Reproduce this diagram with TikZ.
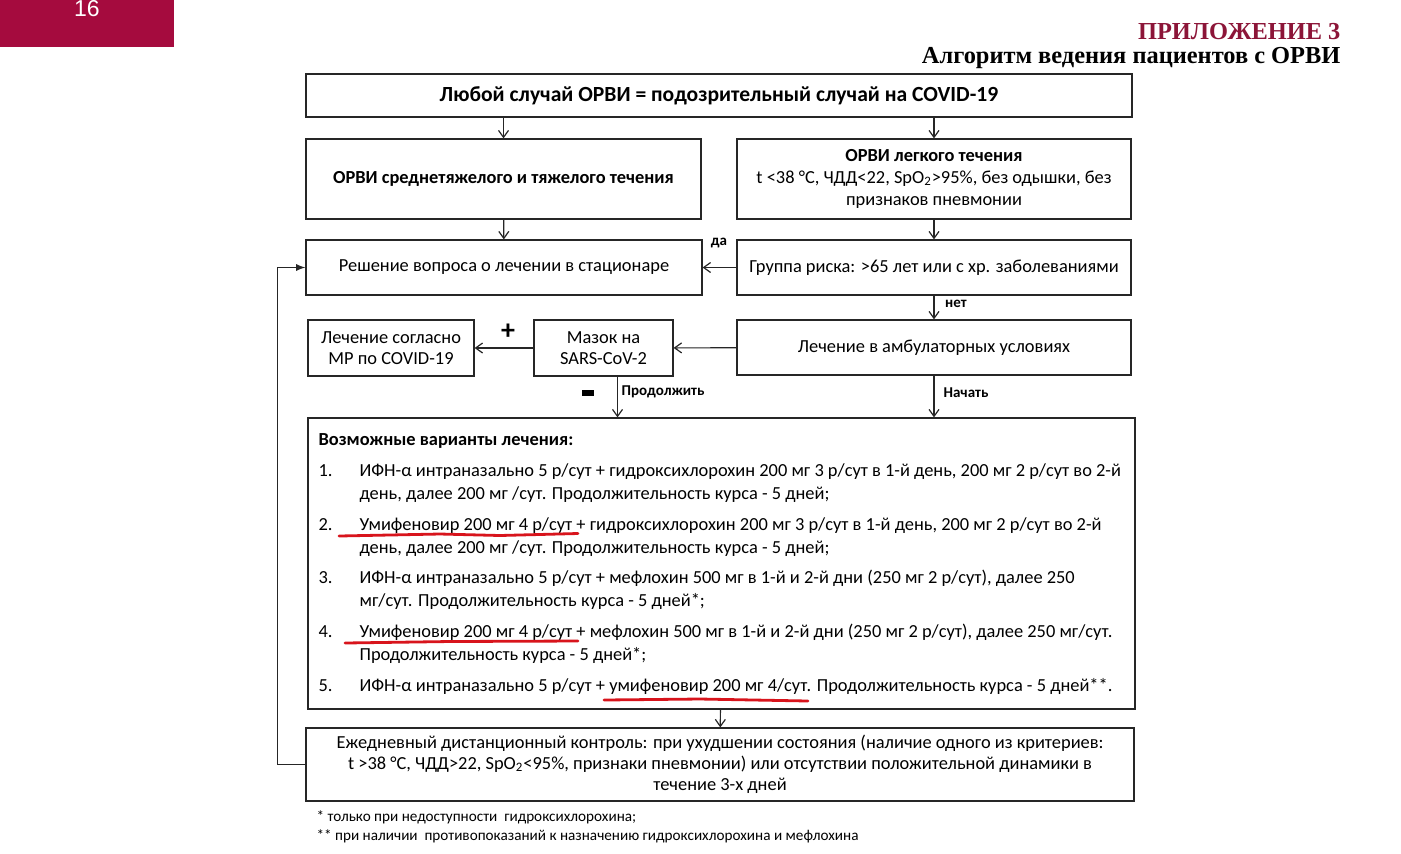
\documentclass[tikz,border=0pt]{standalone}
\usepackage{fontspec}
\setmainfont{Carlito}
\newfontfamily\headfont{Liberation Serif}
\newfontfamily\badgefont{Liberation Sans}
\usetikzlibrary{arrows,arrows.meta,positioning}
\definecolor{badgered}{HTML}{A50B3E}
\definecolor{headred}{HTML}{8C1538}
\definecolor{penred}{HTML}{D8141C}
\newcommand\bodysize{\fontsize{9.2}{10.5}\selectfont}
\newcommand\tagsize{\fontsize{7.5}{8}\selectfont}
\newcommand\notesize{\fontsize{7.6}{8}\selectfont}

\begin{document}
\begin{tikzpicture}[x=0.5pt,y=-0.5pt,>={Straight Barb[length=3.5pt,width=5pt]},line width=0.6pt,
  every node/.style={font=\bodysize},
  box/.style={draw=black!85,rectangle,align=center,inner sep=2pt},
  flow/.style={->,draw=black!85},
  tag/.style={font=\tagsize\bfseries,inner sep=1pt},
  line/.style={anchor=base west,inner sep=0pt},
  redline/.style={draw=penred,line width=1.4pt,line cap=round}]
  \useasboundingbox[fill=white] (0,0) rectangle (1401,853);

  % page badge and heading
  \node[fill=badgered,minimum width=87pt,minimum height=23.5pt,inner sep=0pt] (badge) at (87,23.5) {};
  \node[text=white,font=\badgefont\fontsize{11.5}{11.5}\selectfont,inner sep=0pt] (pg) at (87,9) {16};
  \node[anchor=east,text=headred,font=\headfont\bfseries\fontsize{12.2}{13}\selectfont,inner sep=0pt] (app) at (1341,32) {ПРИЛОЖЕНИЕ 3};
  \node[anchor=east,font=\headfont\bfseries\fontsize{12.2}{13}\selectfont,inner sep=0pt] (ttl) at (1341,58) {Алгоритм ведения пациентов с ОРВИ};

  % boxes
  \node[box,minimum width=413pt,minimum height=21.5pt,font=\fontsize{10.8}{12}\selectfont\bfseries] (any) at (719,95.5)
    {Любой случай ОРВИ = подозрительный случай на COVID-19};
  \node[box,minimum width=197.5pt,minimum height=40pt,font=\bodysize\bfseries] (heavy) at (503.5,179)
    {ОРВИ среднетяжелого и тяжелого течения};
  \node[box,minimum width=197pt,minimum height=40pt,font=\fontsize{9.2}{11}\selectfont] (mild) at (934,179)
    {\textbf{ОРВИ легкого течения}\\t <38 °C, ЧДД<22, SpO\textsubscript{2}>95\%, без одышки, без\\признаков пневмонии};
  \node[box,minimum width=198pt,minimum height=27.5pt] (hosp) at (504,267.5)
    {Решение вопроса о лечении в стационаре};
  \node[box,minimum width=197pt,minimum height=27.5pt] (risk) at (934,267.5)
    {Группа риска: >65 лет или с хр. заболеваниями};
  \node[box,minimum width=197pt,minimum height=27.5pt] (ambu) at (934,347.5)
    {Лечение в амбулаторных условиях};
  \node[box,minimum width=69.5pt,minimum height=28pt] (swab) at (603.5,348)
    {Мазок на\\SARS-CoV-2};
  \node[box,minimum width=83pt,minimum height=28pt] (covid) at (391,348)
    {Лечение согласно\\МР по COVID-19};
  \node[box,minimum width=413.5pt,minimum height=145.5pt] (opts) at (721.5,563.5) {};
  \node[box,minimum width=414pt,minimum height=36.5pt] (ctrl) at (720,764.5)
    {Ежедневный дистанционный контроль: при ухудшении состояния (наличие одного из критериев:\\
     t >38 °C, ЧДД>22, SpO\textsubscript{2}<95\%, признаки пневмонии) или отсутствии положительной динамики в\\
     течение 3-х дней};

  % treatment options
  \node[line,font=\bodysize\bfseries] (oh) at (318,445.5) {Возможные варианты лечения:};
  \node[line] (n1) at (318,476.5) {1.};
  \node[line] (t1a) at (359,476.5) {ИФН-α интраназально 5 р/сут + гидроксихлорохин 200 мг 3 р/сут в 1-й день, 200 мг 2 р/сут во 2-й};
  \node[line] (t1b) at (359,499.5) {день, далее 200 мг /сут. Продолжительность курса - 5 дней;};
  \node[line] (n2) at (318,530.5) {2.};
  \node[line] (t2a) at (359,530.5) {Умифеновир 200 мг 4 р/сут + гидроксихлорохин 200 мг 3 р/сут в 1-й день, 200 мг 2 р/сут во 2-й};
  \node[line] (t2b) at (359,553.5) {день, далее 200 мг /сут. Продолжительность курса - 5 дней;};
  \node[line] (n3) at (318,583.5) {3.};
  \node[line] (t3a) at (359,583.5) {ИФН-α интраназально 5 р/сут + мефлохин 500 мг в 1-й и 2-й дни (250 мг 2 р/сут), далее 250};
  \node[line] (t3b) at (359,606.5) {мг/сут. Продолжительность курса - 5 дней*;};
  \node[line] (n4) at (318,637.5) {4.};
  \node[line] (t4a) at (359,637.5) {Умифеновир 200 мг 4 р/сут + мефлохин 500 мг в 1-й и 2-й дни (250 мг 2 р/сут), далее 250 мг/сут.};
  \node[line] (t4b) at (359,660.5) {Продолжительность курса - 5 дней*;};
  \node[line] (n5) at (318,691.5) {5.};
  \node[line] (t5a) at (359,691.5) {ИФН-α интраназально 5 р/сут + умифеновир 200 мг 4/сут. Продолжительность курса - 5 дней**.};

  % hand-drawn red marks
  \draw[redline] (339,536) -- (440,534) -- (500,535.5) -- (578,533.5);
  \draw[redline] (345,643) -- (450,641.5) -- (578,641);
  \draw[redline] (604,700) -- (700,699) -- (808,701);

  % footnotes
  \node[line,font=\notesize] (f1) at (316,821) {* только при недоступности\ \ гидроксихлорохина;};
  \node[line,font=\notesize] (f2) at (316,840) {** при наличии\ \ противопоказаний к назначению гидроксихлорохина и мефлохина};

  % connectors
  \draw[flow] (heavy.north |- any.south) -- (heavy.north);
  \draw[flow] (mild.north |- any.south) -- (mild.north);
  \draw[flow] (heavy) -- (hosp);
  \draw[flow] (mild) -- (risk);
  \draw[flow] (risk) -- (hosp);
  \draw[flow] (risk) -- (ambu);
  \draw[flow] (ambu) -- (swab);
  \draw[flow] (swab) -- (covid);
  \coordinate (swabout) at ([xshift=7pt]swab.south);
  \draw[flow] (swabout) -- (swabout |- opts.north);
  \draw[flow] (ambu.south) -- (ambu.south |- opts.north);
  \draw[flow] (opts) -- (ctrl);
  \draw[-latex,draw=black!85] (ctrl.west) -- ++(-28,0) |- (hosp.west);

  % labels on connectors
  \node[tag] (yes) at (719,243) {да};
  \node[tag] (no) at (956,304) {нет};
  \node[tag] (cont) at (663,392) {Продолжить};
  \node[tag] (start) at (966,393) {Начать};
  \node[font=\fontsize{14}{14}\selectfont\bfseries,inner sep=0pt] (plus) at (508,332) {+};
  \node[fill=black,minimum width=6pt,minimum height=2.6pt,inner sep=0pt] (minus) at (588,393) {};
\end{tikzpicture}
\end{document}
